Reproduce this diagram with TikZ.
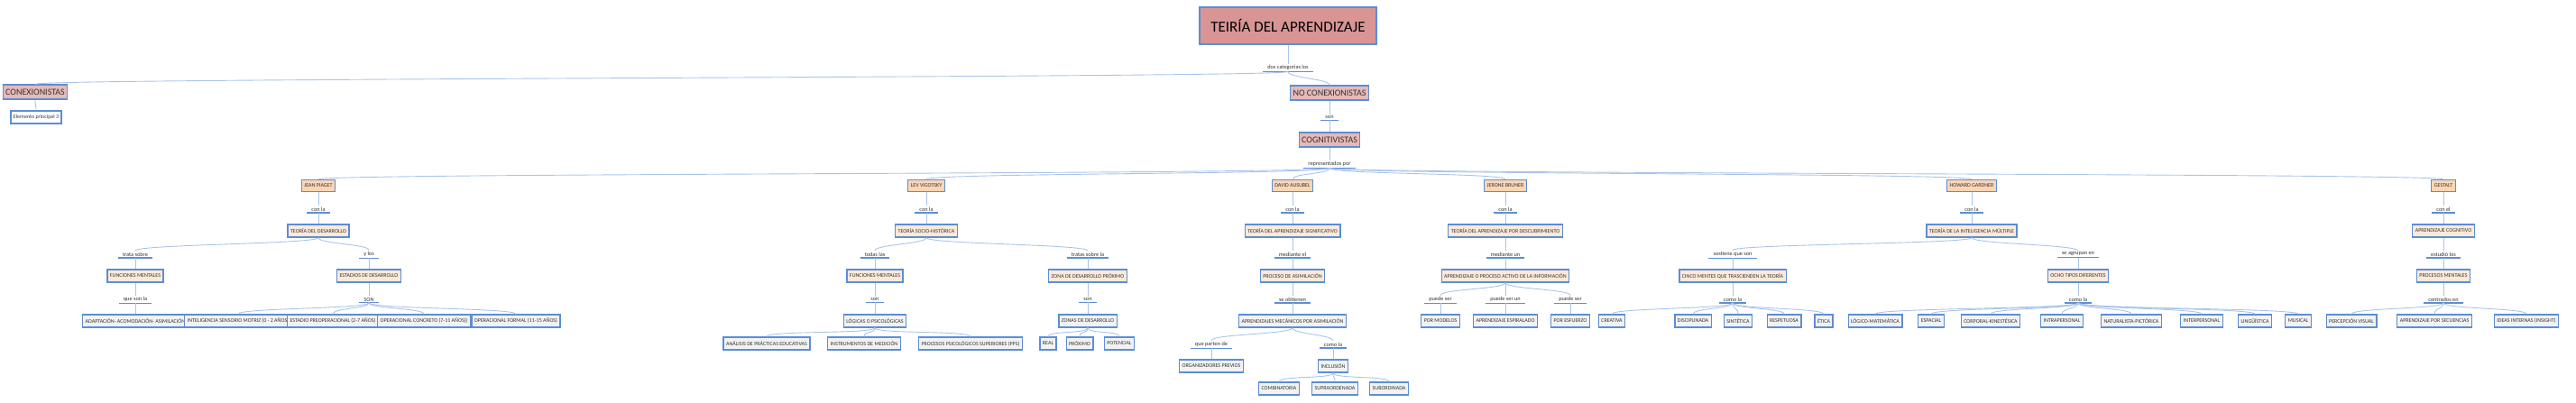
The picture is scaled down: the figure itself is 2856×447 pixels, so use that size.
\documentclass[tikz,border=0pt]{standalone}
\usepackage{fontspec}
\setmainfont{Carlito}
\definecolor{bd}{HTML}{5B8ED6}
\definecolor{cn}{HTML}{A9C4EA}
\definecolor{tt}{HTML}{D99594}
\definecolor{ct}{HTML}{E6B9B8}
\definecolor{au}{HTML}{FBD5B5}
\definecolor{th}{HTML}{FDE9D9}
\definecolor{lf}{HTML}{F2F2F2}
\tikzset{
 base/.style={draw=bd,line width=1.2pt,inner xsep=3pt,inner ysep=2.5pt,text=black!80,font=\fontsize{6}{7}\selectfont},
 ttl/.style={base,fill=tt,line width=2pt,font=\fontsize{17}{19}\selectfont,inner xsep=12pt,minimum height=41,text=black},
 cat/.style={base,fill=ct,font=\fontsize{10}{12}\selectfont,minimum height=16},
 aut/.style={base,fill=au,minimum height=13},
 thr/.style={base,fill=th,minimum height=14},
 leaf/.style={base,fill=lf,minimum height=14},
 lab/.style={inner sep=1.5pt,inner xsep=5pt,text=black!80,font=\fontsize{6.3}{7}\selectfont,
   append after command={(\tikzlastnode.south west) edge[draw=bd,line width=1.2pt] (\tikzlastnode.south east)}},
 conn/.style={draw=cn,line width=0.9pt}
}
\newcommand\lnk[2]{\draw[conn] (#1.south) .. controls +(0,7) and +(0,-7) .. (#2.north);}
\begin{document}
\begin{tikzpicture}[x=1pt,y=-1pt]
\useasboundingbox (0,0) rectangle (2856,447);
\node[ttl] (T) at (1428,28) {TEIRÍA DEL APRENDIZAJE};
\node[lab] (l0) at (1428,75) {dos categorias los};
\node[cat] (C1) at (39,102) {CONEXIONISTAS};
\node[leaf,fill=white] (E3) at (40,130) {Elemento principal 3};
\node[cat] (C2) at (1474,103) {NO CONEXIONISTAS};
\node[lab] (l1) at (1474,130) {son};
\node[cat] (CG) at (1474,155) {COGNITIVISTAS};
\node[lab] (l2) at (1474,182) {representados por};
\lnk{T}{l0}\lnk{l0}{C1}\lnk{l0}{C2}\lnk{C1}{E3}\lnk{C2}{l1}\lnk{l1}{CG}\lnk{CG}{l2}
% authors
\node[aut] (P) at (353,206) {JEAN PIAGET};
\node[aut] (V) at (1027,206) {LEV VIGOTSKY};
\node[aut] (A) at (1433,206) {DAVID AUSUBEL};
\node[aut] (B) at (1669,206) {JERONE BRUNER};
\node[aut] (G) at (2186,206) {HOWARD GARDNER};
\node[aut] (S) at (2709,206) {GESTALT};
\foreach \n in {P,V,A,B,G,S}{\lnk{l2}{\n}}
% Piaget
\node[lab] (p1) at (353,232) {con la};
\node[thr] (p2) at (353,256) {TEORÍA DEL DESARROLLO};
\node[lab] (p3) at (150,282) {trata sobre};
\node[thr] (p4) at (150,306) {FUNCIONES MENTALES};
\node[lab] (p5) at (150,332) {que son la};
\node[leaf] (p6) at (150,356) {ADAPTACIÓN- ACOMODACIÓN- ASIMILACIÓN};
\node[lab] (p7) at (409,282) {y los};
\node[thr] (p8) at (409,306) {ESTADIOS DE DESARROLLO};
\node[lab] (p9) at (409,332) {SON};
\node[leaf] (pa) at (264,356) {INTELIGENCIA SENSORIO MOTRIZ (0 - 2 AÑOS)};
\node[leaf] (pb) at (369,356) {ESTADIO PREOPERACIONAL (2-7 AÑOS)};
\node[leaf] (pc) at (470,356) {OPERACIONAL CONCRETO (7-11 AÑOS))};
\node[leaf] (pd) at (572,356) {OPERACIONAL FORMAL (11-15 AÑOS)};
\lnk{P}{p1}\lnk{p1}{p2}\lnk{p2}{p3}\lnk{p3}{p4}\lnk{p4}{p5}\lnk{p5}{p6}
\lnk{p2}{p7}\lnk{p7}{p8}\lnk{p8}{p9}\lnk{p9}{pa}\lnk{p9}{pb}\lnk{p9}{pc}\lnk{p9}{pd}
% Vigotsky
\node[lab] (v1) at (1027,232) {con la};
\node[thr] (v2) at (1027,256) {TEORÍA SOCIO-HISTÓRICA};
\node[lab] (v3) at (970,282) {todas las};
\node[thr] (v4) at (970,306) {FUNCIONES MENTALES};
\node[lab] (v5) at (970,332) {son};
\node[leaf] (v6) at (970,356) {LÓGICAS O PSICOLÓGICAS};
\node[leaf] (v7) at (850,381) {ANÁLISIS DE PRÁCTICAS EDUCATIVAS};
\node[leaf] (v8) at (958,381) {INSTRUMENTOS DE MEDICIÓN};
\node[leaf] (v9) at (1076,381) {PROCESOS PSICOLÓGICOS SUPERIORES (PPS)};
\node[lab] (va) at (1206,282) {tratas sobre la};
\node[thr] (vb) at (1206,306) {ZONA DE DESARROLLO PRÓXIMO};
\node[lab] (vc) at (1206,332) {son};
\node[leaf] (vd) at (1206,356) {ZONAS DE DESARROLLO};
\node[leaf] (ve) at (1162,381) {REAL};
\node[leaf] (vf) at (1197,381) {PRÓXIMO};
\node[leaf] (vg) at (1241,381) {POTENCIAL};
\lnk{V}{v1}\lnk{v1}{v2}\lnk{v2}{v3}\lnk{v3}{v4}\lnk{v4}{v5}\lnk{v5}{v6}\lnk{v6}{v7}\lnk{v6}{v8}\lnk{v6}{v9}
\lnk{v2}{va}\lnk{va}{vb}\lnk{vb}{vc}\lnk{vc}{vd}\lnk{vd}{ve}\lnk{vd}{vf}\lnk{vd}{vg}
% Ausubel
\node[lab] (a1) at (1433,232) {con la};
\node[thr] (a2) at (1433,256) {TEORÍA DEL APRENDIZAJE SIGNIFICATIVO};
\node[lab] (a3) at (1433,282) {mediante el};
\node[thr] (a4) at (1433,306) {PROCESO DE ASIMILACIÓN};
\node[lab] (a5) at (1433,332) {se obtienen};
\node[leaf] (a6) at (1433,356) {APRENDIZAJES MECÁNICOS POR ASIMILACIÓN};
\node[lab] (a7) at (1343,382) {que parten de};
\node[leaf] (a8) at (1343,406) {ORGANIZADORES PREVIOS};
\node[lab] (a9) at (1478,382) {como la};
\node[leaf] (aa) at (1478,406) {INCLUSIÓN};
\node[leaf] (ab) at (1418,431) {COMBINATORIA};
\node[leaf] (ac) at (1480,431) {SUPRAORDENADA};
\node[leaf] (ad) at (1540,431) {SUBORDINADA};
\lnk{A}{a1}\lnk{a1}{a2}\lnk{a2}{a3}\lnk{a3}{a4}\lnk{a4}{a5}\lnk{a5}{a6}\lnk{a6}{a7}\lnk{a7}{a8}
\lnk{a6}{a9}\lnk{a9}{aa}\lnk{aa}{ab}\lnk{aa}{ac}\lnk{aa}{ad}
% Bruner
\node[lab] (b1) at (1669,232) {con la};
\node[thr] (b2) at (1669,256) {TEORÍA DEL APRENDIZAJE POR DESCUBRIMIENTO};
\node[lab] (b3) at (1669,282) {mediante un};
\node[thr] (b4) at (1669,306) {APRENDIZAJE O PROCESO ACTIVO DE LA INFORMACIÓN};
\node[lab] (b5) at (1597,332) {puede ser};
\node[lab] (b6) at (1669,332) {puede ser un};
\node[lab] (b7) at (1741,332) {puede ser};
\node[leaf] (b8) at (1597,356) {POR MODELOS};
\node[leaf] (b9) at (1669,356) {APRENDIZAJE ESPIRALADO};
\node[leaf] (ba) at (1741,356) {POR ESFUERZO};
\lnk{B}{b1}\lnk{b1}{b2}\lnk{b2}{b3}\lnk{b3}{b4}\lnk{b4}{b5}\lnk{b4}{b6}\lnk{b4}{b7}\lnk{b5}{b8}\lnk{b6}{b9}\lnk{b7}{ba}
% Gardner
\node[lab] (g1) at (2186,232) {con la};
\node[thr] (g2) at (2186,256) {TEORÍA DE LA INTELIGENCIA MÚLTIPLE};
\node[lab] (g3) at (1921,282) {sostiene que son};
\node[thr] (g4) at (1921,306) {CINCO MENTES QUE TRASCIENDEN LA TEORÍA};
\node[lab] (g5) at (1921,332) {como la};
\node[leaf] (g6) at (1787,356) {CREATIVA};
\node[leaf] (g7) at (1877,356) {DISCIPLINADA};
\node[leaf] (g8) at (1927,356) {SINTÉTICA};
\node[leaf] (g9) at (1978,356) {RESPETUOSA};
\node[leaf] (ga) at (2022,356) {ÉTICA};
\node[lab] (gb) at (2304,282) {se agrupan en};
\node[thr] (gc) at (2304,306) {OCHO TIPOS DIFERENTES};
\node[lab] (gd) at (2304,332) {como la};
\node[leaf] (ge) at (2079,356) {LÓGICO-MATEMÁTICA};
\node[leaf] (gf) at (2141,356) {ESPACIAL};
\node[leaf] (gg) at (2207,356) {CORPORAL-KINESTÉSICA};
\node[leaf] (gh) at (2286,356) {INTRAPERSONAL};
\node[leaf] (gi) at (2363,356) {NATURALISTA-PICTÓRICA};
\node[leaf] (gj) at (2441,356) {INTERPERSONAL};
\node[leaf] (gk) at (2500,356) {LINGÜÍSTICA};
\node[leaf] (gl) at (2548,356) {MUSICAL};
\lnk{G}{g1}\lnk{g1}{g2}\lnk{g2}{g3}\lnk{g3}{g4}\lnk{g4}{g5}
\foreach \n in {g6,g7,g8,g9,ga}{\lnk{g5}{\n}}
\lnk{g2}{gb}\lnk{gb}{gc}\lnk{gc}{gd}
\foreach \n in {ge,gf,gg,gh,gi,gj,gk,gl}{\lnk{gd}{\n}}
% Gestalt
\node[lab] (s1) at (2709,232) {con el};
\node[thr] (s2) at (2709,256) {APRENDIZAJE COGNITIVO};
\node[lab] (s3) at (2709,282) {estudió los};
\node[thr] (s4) at (2709,306) {PROCESOS MENTALES};
\node[lab] (s5) at (2709,332) {centrados en};
\node[leaf] (s6) at (2607,356) {PERCEPCIÓN VISUAL};
\node[leaf] (s7) at (2699,356) {APRENDIZAJE POR SECUENCIAS};
\node[leaf] (s8) at (2801,356) {IDEAS INTERNAS (INSIGHT)};
\lnk{S}{s1}\lnk{s1}{s2}\lnk{s2}{s3}\lnk{s3}{s4}\lnk{s4}{s5}\lnk{s5}{s6}\lnk{s5}{s7}\lnk{s5}{s8}
\end{tikzpicture}
\end{document}
